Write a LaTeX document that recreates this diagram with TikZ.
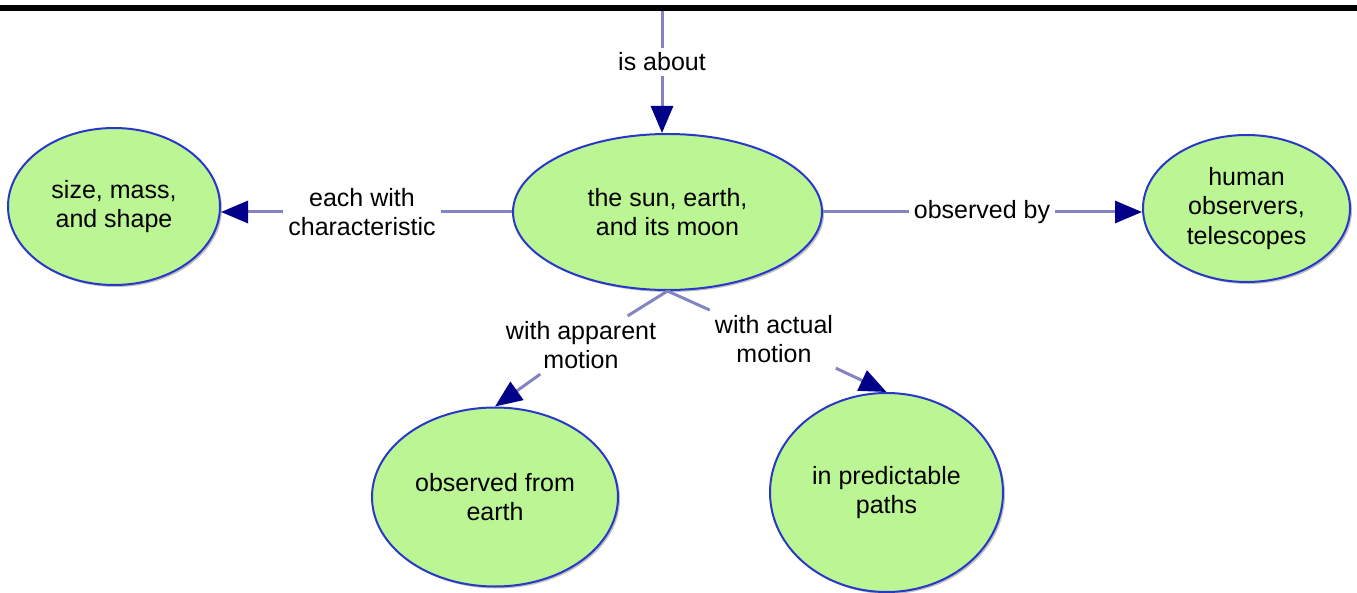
\documentclass[tikz,border=0pt]{standalone}
\usepackage{fontspec}
\setmainfont{Liberation Sans}
\usepackage{tikz}
\usetikzlibrary{positioning,arrows.meta,shapes.geometric,shadows}
\usepackage{xcolor}
\definecolor{leaf}{RGB}{188,246,148}
\definecolor{rim}{RGB}{40,56,200}
\definecolor{linkc}{RGB}{132,132,196}
\definecolor{tipc}{RGB}{0,0,136}

\begin{document}
\begin{tikzpicture}[
  x=1pt, y=-1pt,
  concept/.style={
    ellipse, draw=rim, line width=2pt, fill=leaf, inner sep=0pt,
    align=center, font=\fontsize{25}{29.5}\selectfont,
    drop shadow={shadow xshift=2pt, shadow yshift=-2pt, fill=black, opacity=0.25}
  },
  lbl/.style={
    fill=white, align=center, inner sep=5pt,
    font=\fontsize{25}{29.5}\selectfont
  },
  conn/.style={draw=linkc, line width=3pt},
  arr/.style={conn, -{Triangle[length=27pt, width=22pt, color=tipc]}}
]
\useasboundingbox (0,0) rectangle (1357,593);

% top rule
\fill[black] (0,5) rectangle (1357,11);
\coordinate (top) at (662,11);

\node[concept, minimum width=309pt, minimum height=156pt] (sun) at (667.5,212) {the sun, earth,\\and its moon};
\node[concept, minimum width=212pt, minimum height=157pt] (size) at (114,206.5) {size, mass,\\and shape};
\node[concept, minimum width=207pt, minimum height=147pt] (human) at (1246.5,208.5) {human\\observers,\\telescopes};
\node[concept, minimum width=246pt, minimum height=179pt] (obs) at (495,497) {observed from\\earth};
\node[concept, minimum width=233pt, minimum height=199pt] (paths) at (886.5,492.5) {in predictable\\paths};

\node[lbl] (isabout) at (662,62) {is about};
\node[lbl] (eachlab) at (362,212) {each with\\characteristic};
\node[lbl] (obslab) at (982,212) {observed by};
\node[lbl] (applab) at (581,345) {with apparent\\motion};
\node[lbl] (actlab) at (774,339) {with actual\\motion};

\draw[conn] (top) -- (isabout);
\draw[arr] (isabout) -- (isabout |- sun.north);

\draw[conn] (sun) -- (eachlab);
\draw[arr] (eachlab) -- (eachlab -| size.east);

\draw[conn] (sun) -- (obslab);
\draw[arr] (obslab) -- (obslab -| human.west);

\draw[conn] (sun.south) -- (applab);
\draw[arr] (applab) -- (obs.north);

\draw[conn] (sun.south) -- (actlab);
\draw[arr] (actlab) -- (paths.north);

\end{tikzpicture}
\end{document}
